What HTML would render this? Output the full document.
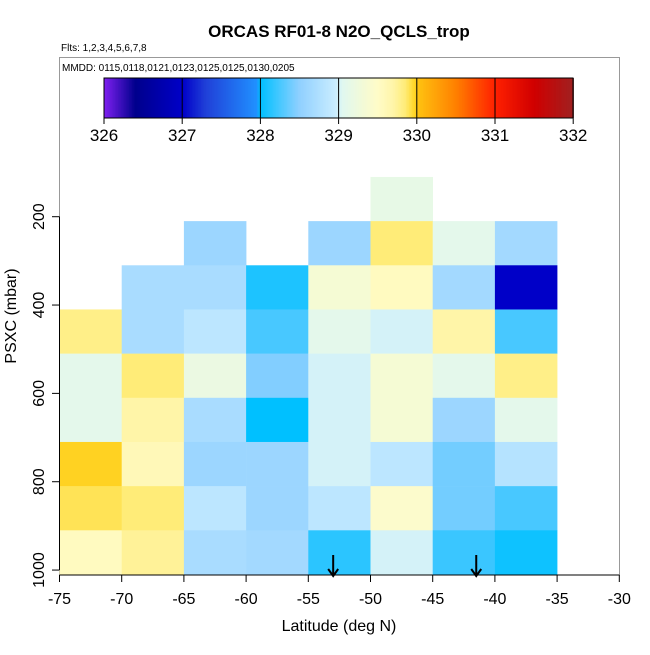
<!DOCTYPE html>
<html><head><meta charset="utf-8"><style>
html,body{margin:0;padding:0;background:#fff;}
svg text{font-family:"Liberation Sans",sans-serif;}
</style></head><body>
<svg id="chart" width="650" height="650" xmlns="http://www.w3.org/2000/svg">
<rect width="650" height="650" fill="#fff"/>
<text x="339" y="37" font-size="17" font-weight="bold" text-anchor="middle">ORCAS RF01-8 N2O_QCLS_trop</text>
<text x="61" y="51" font-size="10">Flts: 1,2,3,4,5,6,7,8</text>
<rect x="59.5" y="57.5" width="560" height="517.5" fill="none" stroke="#999" stroke-width="1"/>
<text x="62" y="71" font-size="10">MMDD: 0115,0118,0121,0123,0125,0125,0130,0205</text>
<g id="colorbar"></g>
<g id="cells"></g>
<g id="axes"></g>
<text x="339" y="631" font-size="16" text-anchor="middle">Latitude (deg N)</text>
<text transform="translate(16,316) rotate(-90)" font-size="16" text-anchor="middle">PSXC (mbar)</text>
</svg>
<script>
const latBins = [-75,-70,-65,-60,-55,-50,-45,-40];
const presBins = [110,210,310,410,510,610,710,810,910];
// values[col][row], null = no data
const values = [
 [null,null,null,329.8,329.1,329.1,329.98,329.9,329.55],
 [null,null,328.7,328.7,329.85,329.7,329.6,329.85,329.75],
 [null,328.6,328.7,328.85,329.2,328.7,328.6,328.85,328.7],
 [null,null,328.1,328.25,328.45,328.0,328.6,328.6,328.65],
 [null,328.6,329.35,329.1,329.0,329.0,329.0,328.85,328.15],
 [329.15,329.85,329.55,329.0,329.35,329.35,328.85,329.45,329.0],
 [null,329.1,328.65,329.7,329.1,328.6,328.4,328.4,328.2],
 [null,328.65,327.0,328.25,329.8,329.1,328.8,328.25,328.05]
];
const xTicks = [-75,-70,-65,-60,-55,-50,-45,-40,-35,-30];
const yTicks = [200,400,600,800,1000];
const cbTicks = [326,327,328,329,330,331,332];
const arrowLats = [-53,-41.5];

const NS="http://www.w3.org/2000/svg";
const X = v => 59.5 + (v + 75) * 12.44;
const Y = p => 216.7 + (p - 200) * 0.4417;
const CB = v => 104 + (v - 326) * 78.2;
const stops = [[326,[128,32,240]],[326.4,[0,0,140]],[327,[0,0,200]],[327.3,[32,64,216]],[327.95,[32,144,255]],[328,[0,192,255]],[328.5,[144,208,255]],[328.95,[200,236,255]],[329.05,[224,248,240]],[329.3,[242,250,216]],[329.5,[255,252,200]],[329.7,[255,245,168]],[329.85,[255,236,120]],[329.97,[255,214,38]],[330.03,[255,192,16]],[330.5,[255,128,0]],[331,[255,32,0]],[331.5,[208,0,0]],[332,[160,32,32]]];
function color(v){
  for(let i=1;i<stops.length;i++){ if(v<=stops[i][0]){ const a=stops[i-1],b=stops[i];const t=(v-a[0])/(b[0]-a[0]);
    const c=a[1].map((x,k)=>Math.round(x+(b[1][k]-x)*t)); return `rgb(${c})`; } }
  return 'rgb(160,32,32)';
}
function mk(tag,attrs,parent){const e=document.createElementNS(NS,tag);for(const k in attrs)e.setAttribute(k,attrs[k]);parent.appendChild(e);return e;}

const cb=document.getElementById('colorbar');
for(let v=326;v<331.99;v+=0.02){
  const r=mk('rect',{x:CB(v),y:78,width:78.2*0.02+0.6,height:40,fill:color(v+0.01)},cb);
  
  
}
mk('rect',{x:104,y:78,width:469,height:40,fill:'none',stroke:'#000','stroke-width':1},cb);
cbTicks.forEach(t=>{
  const l=mk('line',{x1:CB(t),x2:CB(t),y1:78,y2:124,stroke:'#000','stroke-width':1},cb);
  
  
  const tx=mk('text',{x:CB(t),y:141,'font-size':17,'text-anchor':'middle'},cb);tx.textContent=t;
  
  
});

const cg=document.getElementById('cells');
values.forEach((col,i)=>col.forEach((v,j)=>{
  if(v===null)return;
  const r=mk('rect',{x:X(latBins[i]),y:Y(presBins[j]),width:X(latBins[i]+5)-X(latBins[i])+0.3,height:Y(presBins[j]+100)-Y(presBins[j])+0.3,fill:color(v)},cg);
  
  
}));

const ax=document.getElementById('axes');
mk('line',{x1:X(-75),x2:X(-30),y1:575,y2:575,stroke:'#000'},ax);
xTicks.forEach(t=>{
  const l=mk('line',{x1:X(t),x2:X(t),y1:575,y2:582,stroke:'#000'},ax);
  
  
  const tx=mk('text',{x:X(t),y:604,'font-size':16,'text-anchor':'middle'},ax);tx.textContent=t;
  
  
});
mk('line',{x1:59.5,x2:59.5,y1:Y(200),y2:Y(1000),stroke:'#000'},ax);
yTicks.forEach(t=>{
  const l=mk('line',{x1:52,x2:59.5,y1:Y(t),y2:Y(t),stroke:'#000'},ax);
  
  
  const tx=mk('text',{transform:`translate(44,${Y(t)}) rotate(-90)`,'font-size':16,'text-anchor':'middle'},ax);tx.textContent=t;
  
  
});
arrowLats.forEach(a=>{
  const p=mk('path',{d:`M${X(a)},555 L${X(a)},576 M${X(a)-5},569 L${X(a)},576 L${X(a)+5},569`,stroke:'#000','stroke-width':2,fill:'none'},ax);
  
  
});
</script>
</body></html>
